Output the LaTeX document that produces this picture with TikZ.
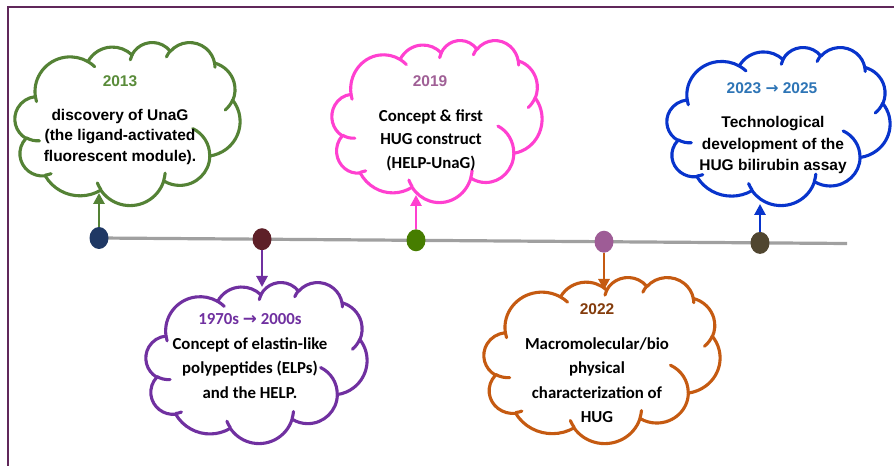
\documentclass[tikz,border=0pt]{standalone}
\usepackage{fontspec}
\setmainfont{Liberation Sans}
\newfontfamily\calfont{Carlito}
\newfontfamily\arfont{Liberation Sans}
\newfontfamily\arrowfont{DejaVu Sans}
\usetikzlibrary{arrows.meta,shapes.geometric}

\definecolor{cgreen}{RGB}{84,130,53}
\definecolor{cpink}{RGB}{255,64,208}
\definecolor{cblue}{RGB}{8,52,204}
\definecolor{cpurple}{RGB}{112,48,160}
\definecolor{corange}{RGB}{197,90,17}
\definecolor{ygreen}{RGB}{90,140,58}
\definecolor{ymauve}{RGB}{160,96,150}
\definecolor{yblue}{RGB}{46,117,182}
\definecolor{ybrown}{RGB}{132,60,12}
\definecolor{dnavy}{RGB}{31,56,100}
\definecolor{dmaroon}{RGB}{94,32,40}
\definecolor{dgreen}{RGB}{70,125,0}
\definecolor{dmauve}{RGB}{158,92,150}
\definecolor{dolive}{RGB}{80,70,48}
\definecolor{framecol}{RGB}{96,40,90}
\definecolor{linegray}{RGB}{160,160,160}

\makeatletter
\gdef\cloudout{}
\gdef\cloudin{}
\newcommand\cloudarc[4]{%
  \pgfmathsetmacro\cl@s{atan2((#1)*sin(#3),(#2)*cos(#3))}%
  \pgfmathsetmacro\cl@e{atan2((#1)*sin(#3+#4),(#2)*cos(#3+#4))}%
  \pgfmathsetmacro\cl@d{\cl@e-\cl@s}%
  \pgfmathsetmacro\cl@d{ifthenelse(\cl@d<0,\cl@d+360,\cl@d)}%
  \edef\cl@arc{arc[start angle=\cl@s, delta angle=\cl@d, x radius=#1, y radius=#2]}%
}
\newcommand\addout[4]{\cloudarc{#1}{#2}{#3}{#4}\xdef\cloudout{\cloudout\space\cl@arc}}
\newcommand\addin[6]{\cloudarc{#3}{#4}{#5}{#6}\xdef\cloudin{\cloudin\space(#1,#2)\space\cl@arc}}
\makeatother

\addout{15.632}{21.273}{-190.4875}{123.7805}
\addout{12.345}{16.822}{-144.1024}{89.9452}
\addout{10.104}{13.762}{-145.8079}{99.7230}
\addout{11.243}{15.266}{-130.9861}{117.2417}
\addout{12.345}{16.836}{-78.7089}{109.0269}
\addout{15.683}{21.343}{-46.2673}{130.2690}
\addout{13.391}{18.211}{0.6250}{114.0333}
\addout{15.630}{21.331}{22.4516}{115.1726}
\addout{17.870}{24.405}{66.2426}{75.7110}
\addout{10.093}{13.699}{-274.9421}{146.7356}
\addout{10.058}{13.762}{-246.8285}{152.5189}

\addin{10.863}{60.595}{10.058}{13.762}{86.7420}{26.4295}
\addin{16.037}{80.785}{10.093}{13.699}{73.6105}{11.4475}
\addin{38.144}{90.486}{15.630}{21.331}{137.6242}{14.0811}
\addin{66.729}{80.442}{15.630}{21.331}{6.4533}{15.9984}
\addin{79.002}{53.134}{13.391}{18.211}{-70.2924}{70.9174}
\addin{96.755}{35.542}{12.345}{16.836}{30.3180}{27.7515}
\addin{88.713}{12.560}{11.243}{15.266}{-13.7443}{14.8589}
\addin{67.310}{9.148}{11.243}{15.266}{-149.1815}{18.1954}
\addin{51.252}{10.926}{10.104}{13.762}{-163.4943}{17.6864}
\addin{32.407}{12.019}{15.632}{21.273}{-66.7070}{12.3194}
\addin{9.553}{36.549}{15.632}{21.273}{157.6544}{11.8582}

% cloud: x0 y0 w h colour
\newcommand\drawcloud[5]{%
  \begin{scope}[shift={(#1,#2)}, x={(#3/100*1bp,0)}, y={(0,-#4/100*1bp)}]
    \path[draw=#5, fill=white, cloudline] (9.0278,33.2639) \cloudout -- cycle;
    \path[draw=#5, cloudline] \cloudin;
  \end{scope}}

\tikzset{
  cloudline/.style={line width=3.1bp, line join=round, line cap=round},
  dot/.style={ellipse, minimum width=19bp, minimum height=22bp, inner sep=0pt, draw=none},
  link/.style={line width=2.7bp, -{Triangle[width=11bp,length=11bp]}},
  yeartxt/.style={font=\arfont\bfseries\fontsize{15.5bp}{18bp}\selectfont, inner sep=0pt},
  artxt/.style={font=\arfont\bfseries\fontsize{15.5bp}{#1}\selectfont, align=center, inner sep=0pt, text=black},
  caltxt/.style={font=\calfont\bfseries\fontsize{16.8bp}{#1}\selectfont, align=center, inner sep=0pt, text=black},
}

\begin{document}
\begin{tikzpicture}[x=1bp, y=-1bp]
\useasboundingbox (0,0) rectangle (894,466);
\fill[white] (0,0) rectangle (894,466);

% frame
\draw[framecol, line width=2bp] (8,470) -- (8,7) -- (900,7);

% clouds
\drawcloud{15}{42}{225}{163}{cgreen}
\drawcloud{332}{40}{210}{162}{cpink}
\drawcloud{667}{47}{223}{158}{cblue}
\drawcloud{146}{282}{221}{161}{cpurple}
\drawcloud{484}{277}{236}{166}{corange}

% timeline
\coordinate (p1) at (99,238);
\coordinate (p2) at (262,239.2);
\coordinate (p3) at (416,240.3);
\coordinate (p4) at (604,241.7);
\coordinate (p5) at (760,242.9);
\coordinate (tend) at (847,243.5);
\draw[linegray, line width=3.2bp] (p1) -- (tend);

\node[dot, fill=dnavy]   (d1) at (p1) {};
\node[dot, fill=dmaroon] (d2) at (p2) {};
\node[dot, fill=dgreen]  (d3) at (p3) {};
\node[dot, fill=dmauve]  (d4) at (p4) {};
\node[dot, fill=dolive]  (d5) at (p5) {};

\coordinate (t1) at (99,193);
\coordinate (t2) at (262,287);
\coordinate (t3) at (416,195);
\coordinate (t4) at (604,290);
\coordinate (t5) at (760,204);
\draw[link, cgreen]  (d1) -- (t1);
\draw[link, cpurple] (d2) -- (t2);
\draw[link, cpink]   (d3) -- (t3);
\draw[link, corange] (d4) -- (t4);
\draw[link, cblue]   (d5) -- (t5);

% texts
\node[yeartxt, text=ygreen] (y1) at (120,81) {2013};
\node[artxt=20.5bp] (b1) at (120,136.5) {discovery of UnaG\\(the ligand-activated\\fluorescent module).};

\node[yeartxt, text=ymauve] (y2) at (430,81) {2019};
\node[caltxt=23.5bp] (b2) at (431,140) {Concept \& first\\HUG construct\\(HELP-UnaG)};

\node[yeartxt, text=yblue] (y3) at (772,88) {2023 {\arrowfont→} 2025};
\node[artxt=21.5bp] (b3) at (773,145) {Technological\\development of the\\HUG bilirubin assay};

\node[caltxt=20bp, text=cpurple] (y4) at (250,319) {1970s {\arrowfont→} 2000s};
\node[caltxt=24.5bp] (b4) at (250,368) {Concept of elastin-like\\polypeptides (ELPs)\\and the HELP.};

\node[yeartxt, text=ybrown] (y5) at (597,309) {2022};
\node[caltxt=24.5bp] (b5) at (597,380) {Macromolecular/bio\\physical\\characterization of\\HUG};
\end{tikzpicture}
\end{document}
